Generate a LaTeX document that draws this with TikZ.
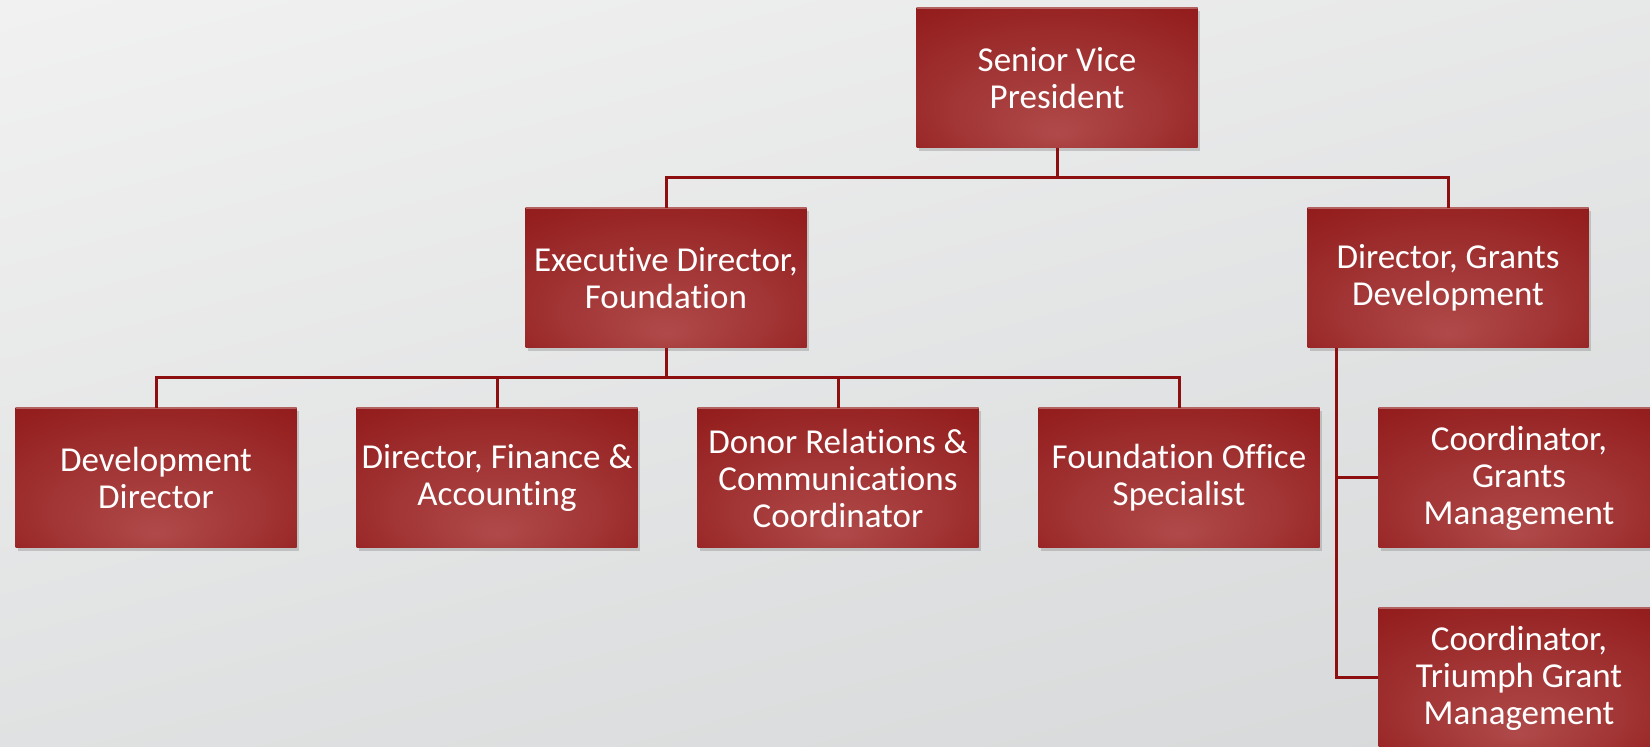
\documentclass[tikz,border=0pt]{standalone}
\usepackage{fontspec}
\setmainfont{Carlito}[Ligatures=NoCommon]
\usetikzlibrary{shadows}

\definecolor{linecol}{HTML}{8E0F0F}
\definecolor{bgtop}{HTML}{F1F1F1}
\definecolor{bgbottom}{HTML}{D6D8D9}
\pgfdeclareradialshading{boxglow}{\pgfpoint{0bp}{-20bp}}{%
    rgb(0bp)=(0.69,0.29,0.29);
    rgb(20bp)=(0.63,0.20,0.20);
    rgb(44bp)=(0.56,0.08,0.08);
    rgb(50bp)=(0.54,0.05,0.05)}

\begin{document}
\begin{tikzpicture}[x=0.5pt, y=-0.5pt,
        cargo/.style={rectangle, shading=boxglow, minimum width=140.5pt, minimum height=70pt,
            inner sep=0pt, align=center, text=white, font=\fontsize{17.5}{18.5}\selectfont,
            drop shadow={shadow xshift=1pt, shadow yshift=-1.5pt, opacity=.35},
            path picture={\draw[white, opacity=.3, line width=1pt]
                (path picture bounding box.north west) -- (path picture bounding box.north east);}},
        linea/.style={draw=linecol, line width=1.5pt}]
    \useasboundingbox (0,0) rectangle (1650,747);
    \clip (0,0) rectangle (1650,747);
    \shade[top color=bgtop, bottom color=bgbottom, shading angle=15] (-100,-100) rectangle (1750,847);

    % arriba
    \node[cargo] (svp) at (1057,78) {Senior Vice\\President};
    \node[cargo] (exec) at (666,278) {Executive Director,\\Foundation};
    \node[cargo] (dgd) at (1448,278) {Director, Grants\\Development};

    % fila de abajo
    \node[cargo] (devdir) at (156,478) {Development\\Director};
    \node[cargo] (finance) at (497,478) {Director, Finance \&\\Accounting};
    \node[cargo] (donor) at (838,478) {Donor Relations \&\\Communications\\Coordinator};
    \node[cargo] (office) at (1179,478) {Foundation Office\\Specialist};

    % lado derecho
    \node[cargo] (coordgrants) at (1519,478) {Coordinator,\\Grants\\Management};
    \node[cargo] (coordtriumph) at (1519,678) {Coordinator,\\Triumph Grant\\Management};

    \foreach \n in {exec,dgd}
        {\draw[linea] (svp.south) -- ++(0,29) -| (\n.north);}
    \foreach \n in {devdir,finance,donor,office}
        {\draw[linea] (exec.south) -- ++(0,29) -| (\n.north);}
    \foreach \n in {coordgrants,coordtriumph}
        {\draw[linea] ([xshift=14.5pt]dgd.south west) |- (\n.west);}
\end{tikzpicture}
\end{document}
